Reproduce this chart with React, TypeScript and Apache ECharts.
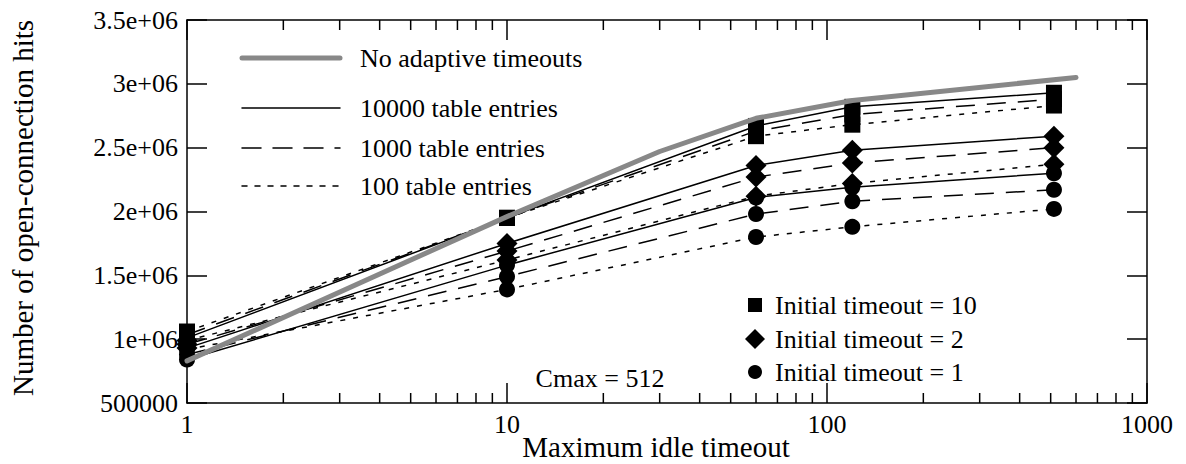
import React, { useEffect, useRef } from "react";
import * as echarts from "echarts";

const xValues = [1, 10, 60, 120, 512];

const init10_10000 = [1.01e6, 1.95e6, 2.67e6, 2.82e6, 2.93e6];
const init10_1000 = [1.035e6, 1.95e6, 2.63e6, 2.76e6, 2.88e6];
const init10_100 = [1.06e6, 1.95e6, 2.59e6, 2.68e6, 2.83e6];
const init2_10000 = [0.93e6, 1.75e6, 2.36e6, 2.48e6, 2.59e6];
const init2_1000 = [0.96e6, 1.69e6, 2.27e6, 2.38e6, 2.5e6];
const init2_100 = [0.99e6, 1.62e6, 2.12e6, 2.22e6, 2.37e6];
const init1_10000 = [0.84e6, 1.58e6, 2.11e6, 2.19e6, 2.3e6];
const init1_1000 = [0.88e6, 1.49e6, 1.98e6, 2.08e6, 2.17e6];
const init1_100 = [0.92e6, 1.39e6, 1.8e6, 1.88e6, 2.02e6];

const greyX = [1, 10, 30, 60, 120, 600];
const greyY = [0.83e6, 1.96e6, 2.47e6, 2.73e6, 2.87e6, 3.05e6];

const minorTickValues = [2, 3, 4, 5, 6, 7, 8, 9, 20, 30, 40, 50, 60, 70, 80, 90, 200, 300, 400, 500, 600, 700, 800, 900];

const xTitle = "Maximum idle timeout";
const yTitle = "Number of open-connection hits";

const yMin = 500000;
const yMax = 3500000;
const yInterval = 500000;

const FONT = "Liberation Serif";
const FS = 26;
const TITLE_FS = 29;

const LONG_DASH = [19, 12];
const SHORT_DASH = [5, 8];

function zip(xs: number[], ys: number[]) {
  return xs.map((x, i) => [x, ys[i]]);
}

export default function App() {
  const ref = useRef<HTMLDivElement>(null);
  useEffect(() => {
    if (!ref.current) return;
    const chart = echarts.init(ref.current, null, { renderer: "svg" });

    const mk = (
      name: string,
      ys: number[],
      dash: any,
      symbol: string,
      size: number
    ) => ({
      name,
      type: "line",
      data: zip(xValues, ys),
      xAxisIndex: 0,
      yAxisIndex: 0,
      symbol,
      symbolSize: size,
      showSymbol: true,
      itemStyle: { color: "#000", borderWidth: 0 },
      lineStyle: { color: "#000", width: 1.5, type: dash },
      z: 3,
      silent: true,
    });

    const axisCommon = {
      axisLine: { show: true, onZero: false, lineStyle: { color: "#000", width: 1.5 } },
      splitLine: { show: false },
    };

    const txt = (x: number, y: number, text: string, align = "left", size = FS, rotation = 0) => ({
      type: "text",
      x,
      y,
      rotation,
      style: {
        text,
        font: `${size}px "${FONT}"`,
        fill: "#000",
        textAlign: align,
        textVerticalAlign: "middle",
      },
    });
    const seg = (y: number, dash: any, color = "#000", w = 1.5) => ({
      type: "line",
      shape: { x1: 242, y1: y, x2: 340, y2: y },
      style: { stroke: color, lineWidth: w, lineDash: dash, lineCap: "round" },
    });

    const option: any = {
      animation: false,
      backgroundColor: "#fff",
      grid: { left: 187, right: 39, top: 20, bottom: 61, containLabel: false, outerBoundsMode: "none" },
      xAxis: [
        {
          type: "log",
          logBase: 10,
          min: 1,
          max: 1000,
          position: "bottom",
          axisTick: { show: true, inside: true, length: 20, lineStyle: { color: "#000", width: 1.5 } },
          axisLabel: {
            fontFamily: FONT,
            fontSize: FS,
            color: "#000",
            margin: 8,
            formatter: (v: number) => String(Math.round(v)),
          },
          minorTick: { show: false },
          ...axisCommon,
        },
        {
          type: "log",
          logBase: 10,
          min: 1,
          max: 1000,
          position: "top",
          axisTick: { show: true, inside: true, length: 20, lineStyle: { color: "#000", width: 1.5 } },
          axisLabel: { show: false },
          ...axisCommon,
        },
      ],
      yAxis: [
        {
          type: "value",
          min: yMin,
          max: yMax,
          interval: yInterval,
          position: "left",
          axisTick: { show: true, inside: true, length: 20, lineStyle: { color: "#000", width: 1.5 } },
          axisLabel: {
            fontFamily: FONT,
            fontSize: FS,
            color: "#000",
            margin: 9,
            formatter: (v: number) => (v === 500000 ? "500000" : `${v / 1e6}e+06`),
          },
          ...axisCommon,
        },
        {
          type: "value",
          min: yMin,
          max: yMax,
          interval: yInterval,
          position: "right",
          axisTick: { show: true, inside: true, length: 20, lineStyle: { color: "#000", width: 1.5 } },
          axisLabel: { show: false },
          ...axisCommon,
        },
      ],
      series: [
        {
          type: "custom",
          xAxisIndex: 0,
          yAxisIndex: 0,
          silent: true,
          z: 1,
          data: minorTickValues.map((v) => [v, yMin]),
          renderItem: (params: any, api: any) => {
            const v = api.value(0);
            const b = api.coord([v, yMin]);
            const t = api.coord([v, yMax]);
            return {
              type: "group",
              children: [
                { type: "line", shape: { x1: b[0], y1: b[1], x2: b[0], y2: b[1] - 10 }, style: { stroke: "#000", lineWidth: 1.5 } },
                { type: "line", shape: { x1: t[0], y1: t[1], x2: t[0], y2: t[1] + 10 }, style: { stroke: "#000", lineWidth: 1.5 } },
              ],
            };
          },
        },
        mk("init10_10000", init10_10000, "solid", "rect", 16),
        mk("init10_1000", init10_1000, LONG_DASH, "rect", 16),
        mk("init10_100", init10_100, SHORT_DASH, "rect", 16),
        mk("init2_10000", init2_10000, "solid", "diamond", 21),
        mk("init2_1000", init2_1000, LONG_DASH, "diamond", 21),
        mk("init2_100", init2_100, SHORT_DASH, "diamond", 21),
        mk("init1_10000", init1_10000, "solid", "circle", 16),
        mk("init1_1000", init1_1000, LONG_DASH, "circle", 16),
        mk("init1_100", init1_100, SHORT_DASH, "circle", 16),
        {
          name: "No adaptive timeouts",
          type: "line",
          data: zip(greyX, greyY),
          symbol: "none",
          lineStyle: { color: "#888888", width: 5, cap: "round", join: "round" },
          z: 4,
          silent: true,
        },
      ],
      graphic: [
        txt(656, 447, xTitle, "center", TITLE_FS),
        txt(23, 208, yTitle, "center", TITLE_FS, Math.PI / 2),
        seg(58, null, "#888888", 5),
        txt(360, 58, "No adaptive timeouts"),
        seg(108, null),
        txt(360, 108, "10000 table entries"),
        seg(148, LONG_DASH),
        txt(360, 148, "1000 table entries"),
        seg(186, SHORT_DASH),
        txt(360, 186, "100 table entries"),
        { type: "rect", shape: { x: 748, y: 298, width: 14, height: 14 }, style: { fill: "#000" } },
        txt(775, 305, "Initial timeout = 10"),
        { type: "polygon", shape: { points: [[755, 329], [765, 339], [755, 349], [745, 339]] }, style: { fill: "#000" } },
        txt(775, 339, "Initial timeout = 2"),
        { type: "circle", shape: { cx: 755, cy: 372, r: 7 }, style: { fill: "#000" } },
        txt(775, 372, "Initial timeout = 1"),
        txt(600, 378, "Cmax = 512", "center"),
      ],
    };
    chart.setOption(option);
    return () => chart.dispose();
  }, []);
  return (
    <div
      ref={ref}
      style={{ position: "absolute", left: 0, top: 0, width: 1186, height: 464 }}
    />
  );
}
